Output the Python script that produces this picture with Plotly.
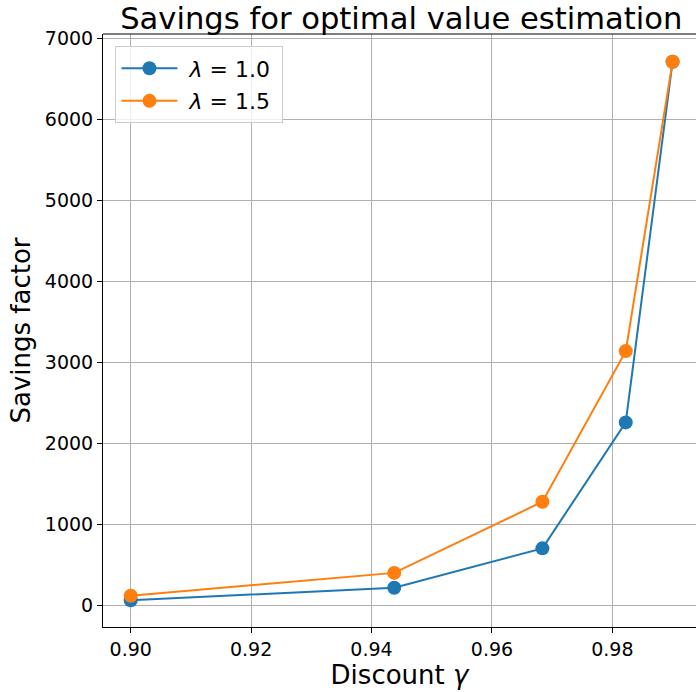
import plotly.graph_objects as go

# Data
gamma = [0.90, 0.94377, 0.96838, 0.98222, 0.99]
savings_lambda_10 = [62, 216, 703, 2258, 6711]
savings_lambda_15 = [118, 400, 1278, 3138, 6711]
series_names = ["\u00a0<i>λ</i> = 1.0\u00a0", "\u00a0<i>λ</i> = 1.5\u00a0"]
x_ticks = [0.90, 0.92, 0.94, 0.96, 0.98]
x_tick_labels = ["0.90", "0.92", "0.94", "0.96", "0.98"]
y_ticks = [0, 1000, 2000, 3000, 4000, 5000, 6000, 7000]
y_tick_labels = ["0", "1000", "2000", "3000", "4000", "5000", "6000", "7000"]

FONT = "DejaVu Sans"
colors = ["#1f77b4", "#ff7f0e"]

fig = go.Figure()
for i, (name, ys) in enumerate(zip(series_names, [savings_lambda_10, savings_lambda_15])):
    fig.add_trace(go.Scatter(
        x=gamma, y=ys, mode="lines+markers", name=name,
        line=dict(color=colors[i], width=2),
        marker=dict(color=colors[i], size=14),
        legendgroup=f"g{i}",
    ))

fig.update_layout(
    width=696, height=692,
    margin=dict(l=103, r=0, t=34, b=65, autoexpand=False),
    paper_bgcolor="white", plot_bgcolor="white",
    font=dict(family=FONT, color="black"),
    title=dict(
        text="Savings for optimal value estimation",
        font=dict(family=FONT, size=30.6, color="black"),
        xref="paper", x=0.503, xanchor="center",
        yref="container", y=0.9893, yanchor="top",
        pad=dict(t=0, b=0),
    ),
    showlegend=True,
    legend=dict(
        x=0.021, y=0.979, xanchor="left", yanchor="top",
        bgcolor="rgba(255,255,255,0.8)", bordercolor="#cccccc", borderwidth=1,
        font=dict(family=FONT, size=22, color="black"),
        tracegroupgap=1,
        itemwidth=56,
    ),
    xaxis=dict(
        range=[0.8954, 0.99389],
        automargin=False,
        tickmode="array", tickvals=x_ticks, ticktext=x_tick_labels,
        tickfont=dict(family=FONT, size=19, color="black"),
        ticks="outside", ticklen=5, tickwidth=1, tickcolor="black",
        showline=True, linecolor="black", linewidth=1,
        showgrid=True, gridcolor="#b0b0b0", gridwidth=1,
        zeroline=False,
        title=dict(text="Discount <i>γ</i>", font=dict(family=FONT, size=26, color="black"), standoff=2),
    ),
    yaxis=dict(
        range=[-268, 7053],
        automargin=False,
        tickmode="array", tickvals=y_ticks, ticktext=y_tick_labels,
        tickfont=dict(family=FONT, size=19, color="black"),
        ticks="outside", ticklen=5, tickwidth=1, tickcolor="black",
        showline=True, linecolor="black", linewidth=1,
        showgrid=True, gridcolor="#b0b0b0", gridwidth=1,
        zeroline=False,
        title=dict(text="Savings factor", font=dict(family=FONT, size=26, color="black"), standoff=6),
    ),
    shapes=[dict(type="line", xref="paper", yref="paper", x0=0, x1=1, y0=1, y1=1,
                 line=dict(color="black", width=1))],
)

fig.write_html(
    "out.html",
    config={"displayModeBar": False},
    post_script="document.body.style.margin='0';document.body.style.padding='0';",
)
